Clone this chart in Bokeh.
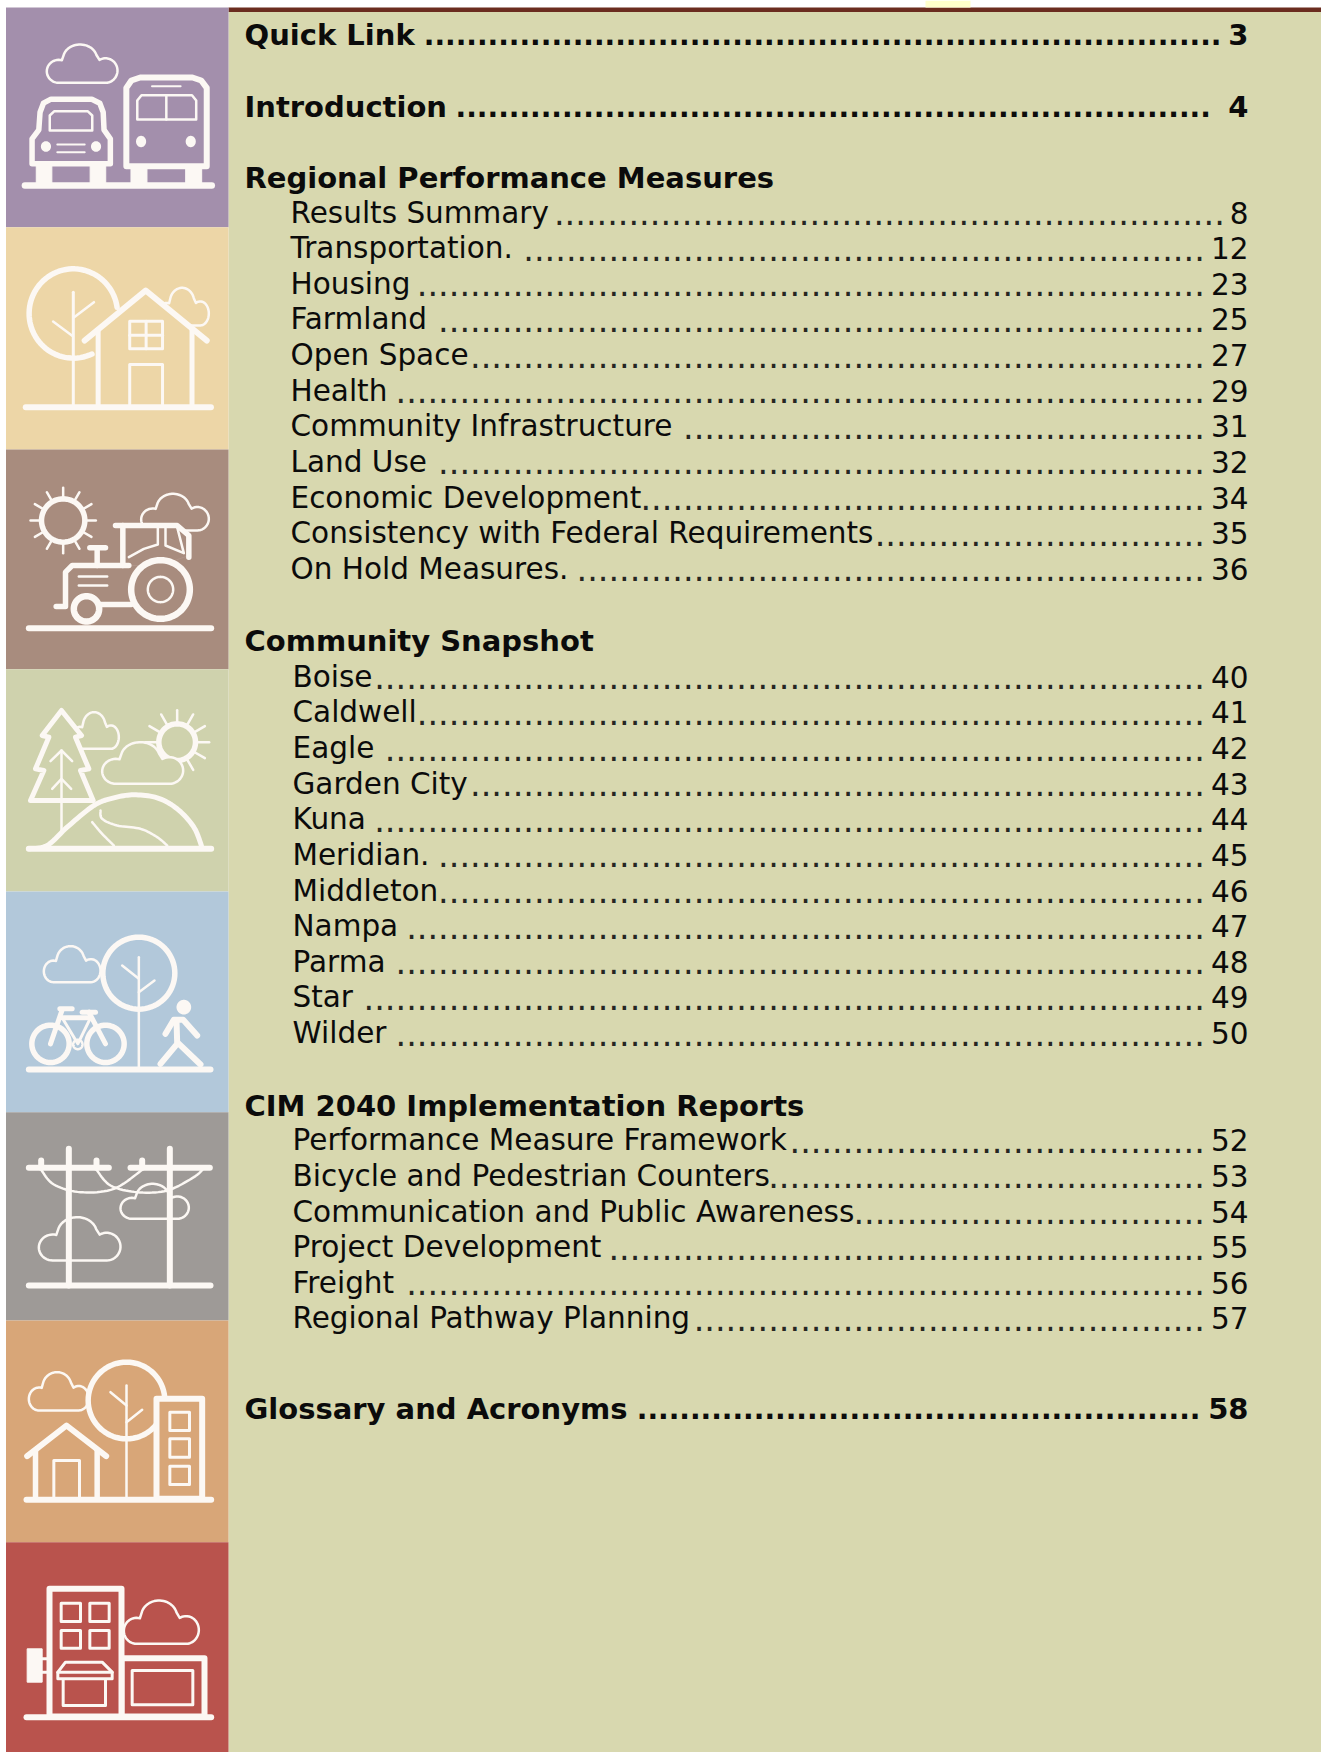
import math
from bokeh.plotting import figure
from bokeh.models import Range1d
from bokeh.core.properties import value
from bokeh.embed import file_html
from bokeh.resources import INLINE

# ---- contents of the page ----
headings_top = ["Quick Link", "Introduction"]
headings_top_pages = ["3", "4"]
headings_top_dots = [75, 71]

regional_title = "Regional Performance Measures"
regional_items = ["Results Summary", "Transportation.", "Housing", "Farmland", "Open Space", "Health",
                  "Community Infrastructure", "Land Use", "Economic Development",
                  "Consistency with Federal Requirements", "On Hold Measures."]
regional_pages = ["8", "12", "23", "25", "27", "29", "31", "32", "34", "35", "36"]
regional_dots = [63, 64, 74, 72, 69, 76, 49, 72, 53, 31, 59]

snapshot_title = "Community Snapshot"
snapshot_items = ["Boise", "Caldwell", "Eagle", "Garden City", "Kuna", "Meridian.", "Middleton",
                  "Nampa", "Parma", "Star", "Wilder"]
snapshot_pages = ["40", "41", "42", "43", "44", "45", "46", "47", "48", "49", "50"]
snapshot_dots = [78, 74, 77, 69, 78, 72, 72, 75, 76, 79, 76]

cim_title = "CIM 2040 Implementation Reports"
cim_items = ["Performance Measure Framework", "Bicycle and Pedestrian Counters",
             "Communication and Public Awareness", "Project Development", "Freight",
             "Regional Pathway Planning"]
cim_pages = ["52", "53", "54", "55", "56", "57"]
cim_dots = [39, 41, 33, 56, 75, 48]

glossary_title = "Glossary and Acronyms"
glossary_page = "58"
glossary_dots = 53

# ---- styling ----
PAGE = "#D8D8AF"
BAND = "#6B2C1F"
INK = "#0B0B0B"
DOTS = "#262622"
WHITE = "#FCF8F4"
FONT = value("DejaVu Sans")
TILES = ["#A38FAC", "#EDD6A7", "#A88C7E", "#CFD2AD", "#B2C8DA", "#9E9A97", "#D8A678", "#B9534D"]
TILE_EDGES = [7, 226.7, 449, 668.7, 891, 1111.7, 1320, 1541.7, 1752]
TEXT_DY = -10.7
DOT_PAD = 1

W, H = 1321, 1752
p = figure(width=W, height=H, x_range=Range1d(0, W), y_range=Range1d(H, 0),
           output_backend="svg", toolbar_location=None, min_border=0,
           background_fill_color="white", border_fill_color="white", outline_line_color=None)
p.axis.visible = False
p.grid.visible = False

p.quad(left=[228], right=[W], top=[11], bottom=[H], fill_color=PAGE, line_color=None)
p.quad(left=[228], right=[W], top=[7], bottom=[11.5], fill_color=BAND, line_color=None)
p.quad(left=[925], right=[970], top=[0], bottom=[7], fill_color="#FFFFCC", line_color=None)
for i, c in enumerate(TILES):
    p.quad(left=[5.5], right=[228], top=[TILE_EDGES[i]], bottom=[TILE_EDGES[i + 1]], fill_color=c, line_color=None)


# ---- text ----
def txt(x, y, s, size, bold=False, align="left", color=INK):
    p.text([x], [y + TEXT_DY], text=[s], text_font=FONT, text_font_size=f"{size}px", text_color=color,
           text_font_style="bold" if bold else "normal", text_align=align, text_baseline="alphabetic")


BOLD, REG = 29, 29.5
RIGHT = 1248
STEP = 35.63


def row(x, y, label, page, dots, last_dot):
    txt(x, y, label, REG)
    txt(last_dot + DOT_PAD, y, "." * dots, 33.5, align="right", color=DOTS)
    txt(RIGHT, y, page, REG, align="right")


def bold_row(y, label, page, dots, last_dot):
    txt(244, y, label, BOLD, True)
    txt(last_dot + DOT_PAD, y, "." * dots, 28, True, align="right")
    txt(RIGHT, y, page, BOLD, True, align="right")


bold_row(45, headings_top[0], headings_top_pages[0], headings_top_dots[0], 1220)
bold_row(116.7, headings_top[1], headings_top_pages[1], headings_top_dots[1], 1209.3)

txt(244, 188, regional_title, BOLD, True)
for i, (a, b, n) in enumerate(zip(regional_items, regional_pages, regional_dots)):
    row(290, 222.7 + i * STEP, a, b, n, 1223.3 if b == "8" else 1203.3)

txt(244, 651, snapshot_title, BOLD, True)
for i, (a, b, n) in enumerate(zip(snapshot_items, snapshot_pages, snapshot_dots)):
    row(292, 687 + i * STEP, a, b, n, 1203.3)

txt(244, 1115.7, cim_title, BOLD, True)
for i, (a, b, n) in enumerate(zip(cim_items, cim_pages, cim_dots)):
    row(292, 1150.5 + i * STEP, a, b, n, 1203.3)

bold_row(1418.7, glossary_title, glossary_page, glossary_dots, 1199)


# ---- icon drawing helpers (u, v are positions in page pixels after mapping) ----
class M:
    def __init__(self, sx, sy, oy, fill):
        self.sx, self.sy, self.oy, self.fill = sx, sy, oy, fill

    def pts(self, seq):
        return [u / self.sx for u, v in seq], [self.oy + v / self.sy for u, v in seq]

    def line(self, seq, w=2.5):
        xs, ys = self.pts(seq)
        p.line(xs, ys, line_color=WHITE, line_width=w, line_cap="round", line_join="round")

    def shape(self, seq, w=2.5, filled=True):
        xs, ys = self.pts(seq)
        p.patch(xs + xs[:1], ys + ys[:1], fill_color=self.fill if filled else WHITE, fill_alpha=1,
                line_color=WHITE, line_width=w, line_join="round")

    def rect(self, u0, v0, u1, v1, w=3, filled=True):
        self.shape([(u0, v0), (u1, v0), (u1, v1), (u0, v1)], w, filled)

    def ell(self, cu, cv, ru, rv, a0=0, a1=360, n=72):
        return [(cu + ru * math.cos(math.radians(a0 + (a1 - a0) * k / n)),
                 cv + rv * math.sin(math.radians(a0 + (a1 - a0) * k / n))) for k in range(n + 1)]

    def ring(self, cu, cv, r, w=5, filled=True, rv=None):
        self.shape(self.ell(cu, cv, r, r if rv is None else rv), w, filled)

    def dot(self, cu, cv, r, rv=None):
        xs, ys = self.pts(self.ell(cu, cv, r, r if rv is None else rv))
        p.patch(xs, ys, fill_color=WHITE, line_color=None)

    def rays(self, cu, cv, r0, r1, n=12, w=2.5):
        for k in range(n):
            t = 2 * math.pi * k / n
            self.line([(cu + r0 * math.cos(t), cv + r0 * math.sin(t)),
                       (cu + r1 * math.cos(t), cv + r1 * math.sin(t))], w)

    def cloud(self, u0, v0, u1, v1, w=2.5, filled=True):
        a, b = u1 - u0, v1 - v0
        seq = (self.ell(u0 + .17 * a, v0 + .70 * b, .17 * a, .30 * b, 90, 285, 24)
               + self.ell(u0 + .47 * a, v0 + .37 * b, .24 * a, .37 * b, 200, 345, 24)
               + self.ell(u0 + .83 * a, v0 + .68 * b, .17 * a, .32 * b, 240, 450, 24))
        self.shape(seq, w, filled)

    def smooth(self, seq, w=2.5, n=10):
        q = [seq[0]] + list(seq) + [seq[-1]]
        out = []
        for i in range(1, len(q) - 2):
            for k in range(n):
                t = k / n
                c = [0.5 * (2 * q[i][d] + (q[i + 1][d] - q[i - 1][d]) * t
                            + (2 * q[i - 1][d] - 5 * q[i][d] + 4 * q[i + 1][d] - q[i + 2][d]) * t * t
                            + (3 * q[i][d] - q[i - 1][d] - 3 * q[i + 1][d] + q[i + 2][d]) * t ** 3) for d in (0, 1)]
                out.append(tuple(c))
        out.append(seq[-1])
        self.line(out, w)


# 1: car and bus
m = M(2.376, 3, 0, TILES[0])
m.cloud(110, 132, 278, 247, 2.5)
for a, b in [(85, 122), (213, 250), (310, 348), (440, 478)]:
    m.rect(a, 490, b, 550, 1, False)
m.shape([(94, 335), (102, 308), (120, 296), (217, 296), (236, 308), (244, 335), (246, 388), (261, 415),
         (261, 490), (75, 490), (75, 415), (91, 388)], 5.5)
m.shape([(117, 345), (128, 332), (207, 332), (218, 345), (218, 390), (117, 390)], 2.5)
m.dot(108, 438, 12, 16)
m.dot(227, 438, 12, 16)
m.line([(135, 432), (200, 432)], 2)
m.line([(135, 455), (200, 455)], 2)
m.shape([(299, 262), (311, 240), (332, 231), (456, 231), (477, 240), (490, 262), (490, 497), (299, 497)], 6)
m.shape([(325, 300), (335, 284), (455, 284), (465, 300), (465, 357), (325, 357)], 2.5)
m.line([(394, 284), (394, 357)], 2.5)
m.line([(360, 257), (428, 257)], 2)
m.dot(334, 423, 12, 17)
m.dot(452, 423, 12, 17)
m.line([(58, 555), (502, 555)], 6.5)

# 2: tree and house
m = M(2.376, 3, 0, TILES[1])
m.cloud(375, 862, 495, 975, 2.5)
m.line(m.ell(173, 939, 105, 134, 65, 352), 5.5)
m.line([(173, 875), (173, 1220)], 3)
m.line([(175, 950), (222, 905)], 2.5)
m.line([(172, 1007), (125, 963)], 2.5)
m.shape([(345, 870), (232, 990), (232, 1220), (455, 1220), (455, 990)], 0.1)
m.line([(200, 1020), (345, 870), (490, 1020)], 6)
m.line([(232, 990), (232, 1220)], 5)
m.line([(455, 990), (455, 1220)], 5)
m.rect(307, 962, 385, 1045, 3)
m.line([(346, 962), (346, 1045)], 3)
m.line([(307, 1004), (385, 1004)], 3)
m.rect(307, 1092, 385, 1220, 3)
m.line([(60, 1220), (500, 1220)], 6)

# 3: tractor and sun
m = M(3, 3, 440, TILES[2])
m.rays(188, 240, 66, 98)
m.ring(188, 240, 65, 5.5)
m.cloud(422, 160, 625, 270, 2.5)
m.shape([(367, 375), (367, 255), (530, 255), (565, 285), (565, 345), (480, 375)], 0.1)
m.line([(345, 255), (530, 255), (565, 285), (565, 350)], 5.5)
m.line([(367, 255), (367, 375)], 5.5)
m.line([(385, 350), (430, 325), (472, 312), (472, 260)], 2.5)
m.line([(495, 260), (495, 315), (550, 338), (530, 260)], 2.5)
m.line([(167, 498), (195, 498), (195, 395), (215, 375), (385, 375)], 5.5)
m.line([(300, 492), (392, 492)], 5.5)
m.line([(290, 375), (290, 322)], 5.5)
m.line([(268, 322), (315, 322)], 5.5)
m.line([(235, 408), (320, 408)], 2.5)
m.line([(235, 435), (320, 435)], 2.5)
m.ring(480, 447, 88, 6.5)
m.ring(480, 447, 38, 2.5)
m.ring(258, 505, 38, 6.5)
m.line([(85, 563), (632, 563)], 6)

# 4: landscape
m = M(3, 3, 440, TILES[3])
m.cloud(215, 815, 355, 925, 2.5)
m.shape([(183, 810), (243, 885), (225, 890), (265, 985), (240, 990), (278, 1080), (90, 1080), (130, 990),
         (105, 985), (145, 890), (125, 885)], 5)
m.line([(183, 930), (183, 1170)], 2.5)
m.line([(150, 962), (183, 930), (215, 962)], 2.5)
m.line([(155, 1045), (183, 1015), (212, 1045)], 2.5)
m.rays(530, 905, 56, 96)
m.ring(530, 905, 55, 5.5)
m.cloud(305, 905, 548, 1030, 2.5)
m.smooth([(85, 1225), (140, 1215), (200, 1160), (280, 1095), (340, 1072), (400, 1063), (470, 1072),
          (530, 1105), (580, 1160), (605, 1222)], 5)
m.smooth([(300, 1110), (305, 1135), (350, 1155), (420, 1165), (470, 1190), (500, 1215)], 2.5)
m.smooth([(275, 1145), (305, 1180), (340, 1215)], 2.5)
m.line([(85, 1225), (632, 1225)], 6)

# 5: bicycle, tree and walker
m = M(3, 3, 880, TILES[4])
m.cloud(130, 197, 300, 305, 2.5)
m.ring(415, 278, 108, 5.5)
m.line([(415, 230), (415, 565)], 2.5)
m.line([(415, 295), (365, 255)], 2.5)
m.line([(415, 335), (462, 300)], 2.5)
m.ring(150, 490, 56, 5.5)
m.ring(315, 490, 56, 5.5)
m.ring(232, 492, 14, 2.5)
m.line([(150, 490), (185, 388)], 5)
m.line([(315, 490), (265, 395)], 5)
m.line([(185, 412), (270, 412)], 5)
m.line([(185, 412), (232, 490), (270, 412)], 3)
m.line([(178, 385), (215, 385)], 5)
m.line([(245, 395), (285, 395)], 5)
m.dot(550, 380, 22)
m.line([(495, 460), (520, 418), (548, 418), (590, 465)], 6)
m.line([(528, 420), (530, 485), (600, 552)], 6)
m.line([(530, 490), (480, 550)], 6)
m.line([(85, 567), (630, 567)], 6)

# 6: power lines
m = M(3, 3, 880, TILES[5])
m.cloud(115, 1010, 360, 1140, 2.5)
m.cloud(360, 910, 565, 1015, 2.5)
m.smooth([(122, 868), (160, 912), (240, 935), (340, 925), (425, 868)], 2.5)
m.smooth([(288, 868), (330, 915), (410, 935), (500, 930), (580, 890), (608, 865)], 2.5)
m.line([(205, 805), (205, 1215)], 6)
m.line([(508, 805), (508, 1215)], 6)
m.line([(85, 862), (325, 862)], 6)
m.line([(390, 862), (628, 862)], 6)
for u in (122, 288, 425):
    m.line([(u, 840), (u, 862)], 6)
m.line([(85, 1215), (630, 1215)], 6)

# 7: house, tree and tower
m = M(3, 3, 1310, TILES[6])
m.cloud(85, 185, 265, 300, 2.5)
m.ring(378, 270, 115, 5.5)
m.line([(378, 225), (378, 565)], 2.5)
m.line([(378, 285), (330, 245)], 2.5)
m.line([(378, 335), (425, 298)], 2.5)
m.line([(80, 437), (198, 345), (317, 437)], 6)
m.line([(105, 420), (105, 565)], 5.5)
m.line([(290, 420), (290, 565)], 5.5)
m.rect(160, 450, 237, 565, 3)
m.rect(468, 265, 605, 565, 6)
m.rect(508, 305, 567, 360, 3)
m.rect(508, 385, 567, 440, 3)
m.rect(508, 467, 567, 522, 3)
m.line([(78, 568), (632, 568)], 6)

# 8: shop and office
m = M(3, 3, 1310, TILES[7])
m.cloud(370, 870, 595, 1000, 2.5)
m.rect(363, 1043, 612, 1218, 6)
m.rect(395, 1080, 577, 1183, 3)
m.rect(147, 835, 363, 1218, 6)
for a, b in [(182, 240), (268, 326)]:
    m.rect(a, 878, b, 933, 3)
    m.rect(a, 960, b, 1013, 3)
m.rect(80, 1015, 125, 1115, 1, False)
m.line([(125, 1045), (147, 1045)], 3)
m.line([(125, 1085), (147, 1085)], 3)
m.line([(188, 1105), (188, 1185), (315, 1185), (315, 1105)], 3)
m.shape([(195, 1055), (305, 1055), (335, 1085), (335, 1105), (172, 1105), (172, 1085)], 3)
m.line([(172, 1085), (335, 1085)], 3)
m.line([(78, 1220), (632, 1220)], 6)

open("out.html", "w").write(file_html(p, INLINE))
